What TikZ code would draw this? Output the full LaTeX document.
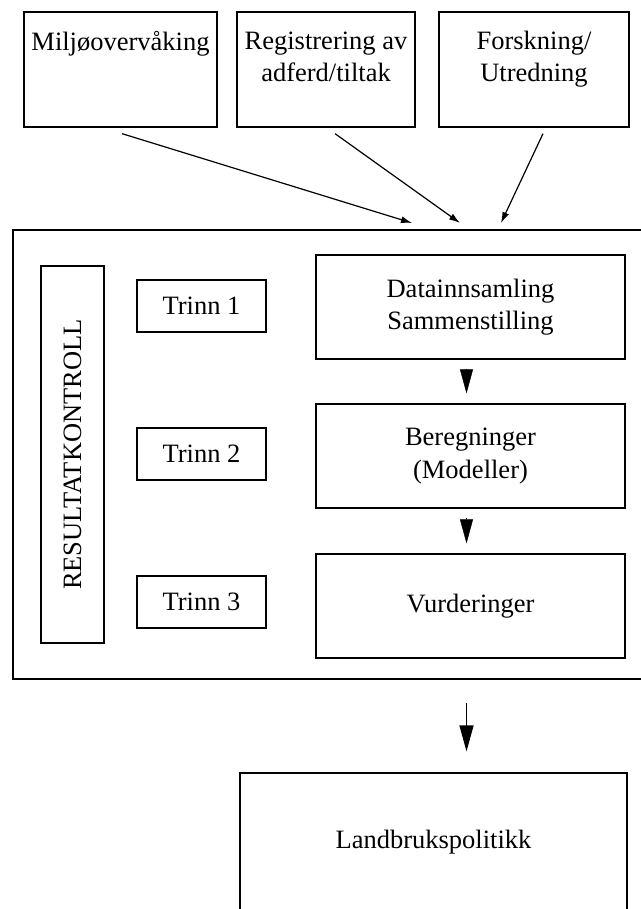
\documentclass[tikz,border=0pt]{standalone}
\usepackage{fontspec}
\setmainfont{Liberation Serif}
\usetikzlibrary{arrows.meta}

\begin{document}
\begin{tikzpicture}[x=1pt,y=-1pt,
        every node/.style={font=\fontsize{26.5}{32.5}\selectfont},
        box/.style={draw,line width=1.3pt,inner sep=0pt,align=center},
        lbl/.style={anchor=north,inner sep=0pt,align=center},
        arr/.style={line width=1.2pt,-{Latex[length=11pt,width=7pt]}},
        tri/.style={-{Triangle[length=24pt,width=13pt]}},
        bigarr/.style={line width=1.4pt,-{Triangle[length=26pt,width=14pt]}}]
            \useasboundingbox (0,0) rectangle (640,909);
            \node[box,minimum width=193pt,minimum height=115pt] (mil) at (120.5,69.5) {};
            \node[box,minimum width=178pt,minimum height=115pt] (reg) at (326,69.5) {};
            \node[box,minimum width=190pt,minimum height=115pt] (fors) at (534,69.5) {};
            \node[lbl] (miltxt) at ([yshift=-16pt]mil.north) {\strut Miljøovervåking};
            \node[lbl] (regtxt) at ([yshift=-15pt]reg.north) {\strut Registrering av\\adferd/tiltak};
            \node[lbl] (forstxt) at ([yshift=-15pt]fors.north) {\strut Forskning/\\Utredning};
            \node[box,line width=2pt,minimum width=640pt,minimum height=449pt] (frame) at (333,454.5) {};
            \node[box,rotate=90,minimum width=377pt,minimum height=63pt] (resk) at (72.5,454.5) {RESULTATKONTROLL};
            \node[box,minimum width=129pt,minimum height=52pt] (trinn1) at (201.5,306) {Trinn 1};
            \node[box,minimum width=129pt,minimum height=52pt] (trinn2) at (201.5,454) {Trinn 2};
            \node[box,minimum width=129pt,minimum height=52pt] (trinn3) at (201.5,602) {Trinn 3};
            \node[box,minimum width=309pt,minimum height=104pt] (datbox) at (470.5,307) {Datainnsamling\\Sammenstilling};
            \node[box,minimum width=309pt,minimum height=104pt] (beregn) at (470.5,456) {Beregninger\\(Modeller)};
            \node[box,minimum width=309pt,minimum height=104pt] (vurd) at (470.5,606) {Vurderinger};
            \node[box,minimum width=387pt,minimum height=138pt] (landbr) at (433.5,842) {Landbrukspolitikk};
            \coordinate (in1) at (412,223);
            \coordinate (in2) at (460,223);
            \coordinate (in3) at (501,223);
            \coordinate (flow) at (466.5,0);
            \draw[arr] ([xshift=1.5pt,yshift=-6pt]mil.south) -- (in1);
            \draw[arr] ([xshift=9pt,yshift=-6pt]reg.south) -- (in2);
            \draw[arr] ([xshift=9pt,yshift=-6pt]fors.south) -- (in3);
            \draw[tri,shorten <=9pt,shorten >=10pt] (datbox.south -| flow) -- (beregn.north -| flow);
            \draw[tri,shorten <=9pt,shorten >=10pt] (beregn.south -| flow) -- (vurd.north -| flow);
            \draw[bigarr,shorten <=23pt,shorten >=21pt] (frame.south -| flow) -- (landbr.north -| flow);
        \end{tikzpicture}
\end{document}
